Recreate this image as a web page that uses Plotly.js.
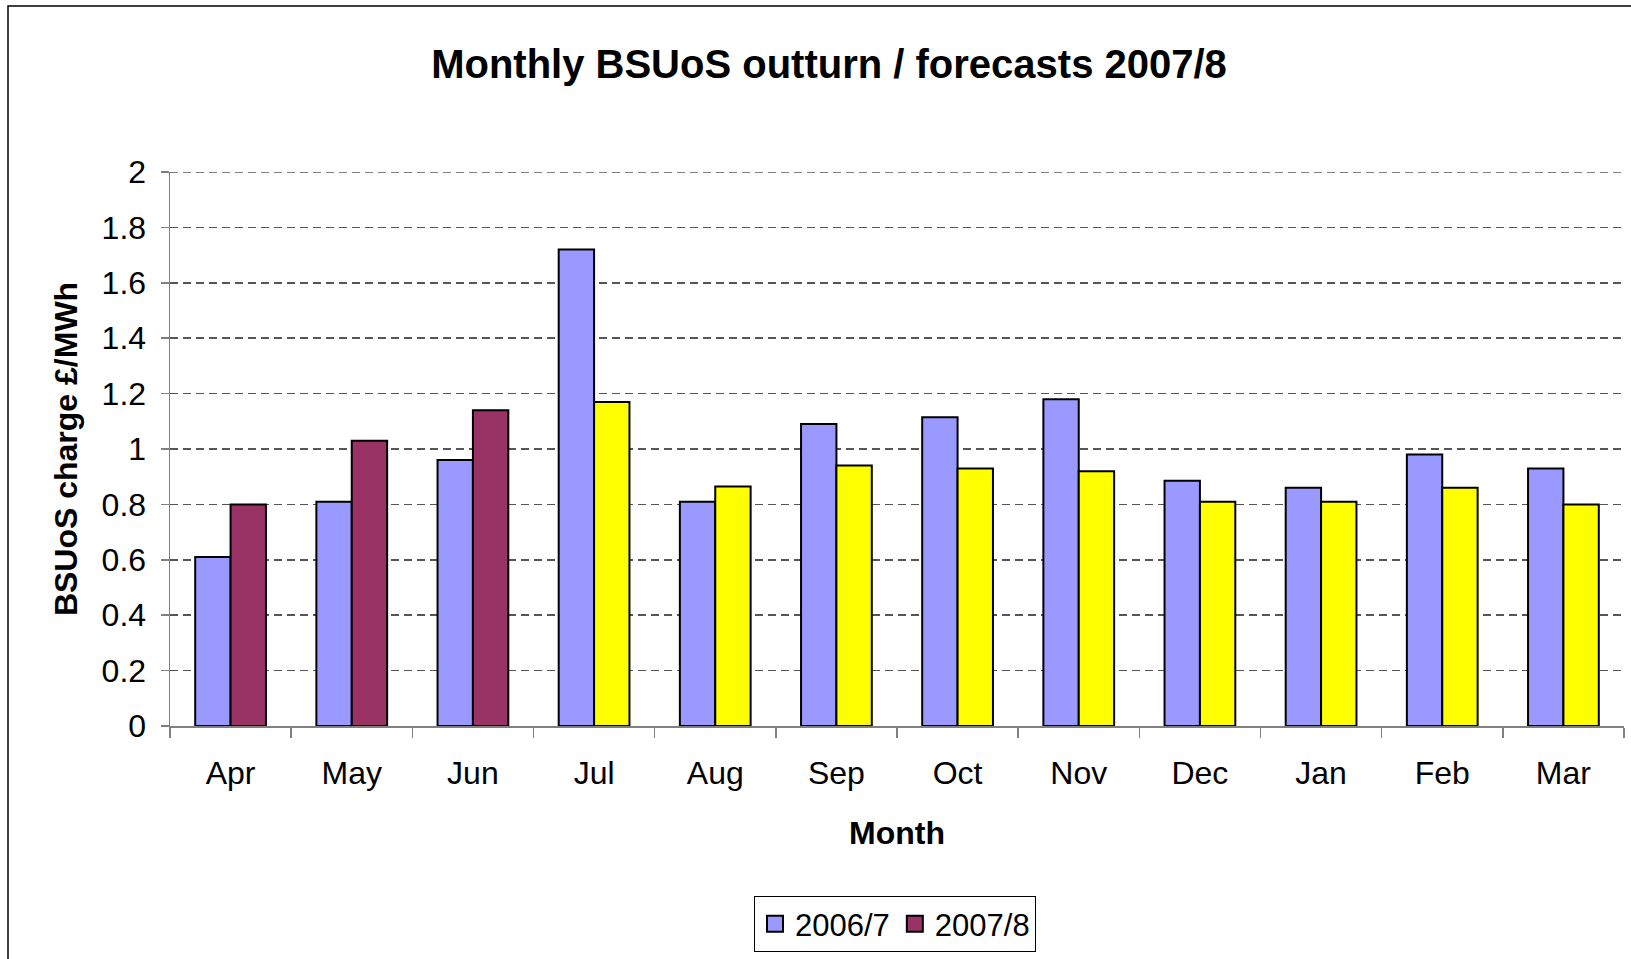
<!DOCTYPE html>
<html>
<head>
<meta charset="utf-8">
<script src="https://cdn.plot.ly/plotly-3.0.1.min.js"></script>
<style>html,body{margin:0;padding:0;background:#fff;}#chart{width:1631px;height:959px;}</style>
</head>
<body>
<div id="chart"></div>
<script>
const months = ["Apr","May","Jun","Jul","Aug","Sep","Oct","Nov","Dec","Jan","Feb","Mar"];
const series2006 = [0.61, 0.81, 0.96, 1.72, 0.81, 1.09, 1.115, 1.18, 0.885, 0.86, 0.98, 0.93];
const series2007 = [0.80, 1.03, 1.14, 1.17, 0.865, 0.94, 0.93, 0.92, 0.81, 0.81, 0.86, 0.80];
const outturnMonths = 3; // Apr-Jun outturn, remainder forecast
const yTicks = [0, 0.2, 0.4, 0.6, 0.8, 1, 1.2, 1.4, 1.6, 1.8, 2];

const colors2007 = series2007.map((v, i) => i < outturnMonths ? "#993366" : "#FFFF00");

const W = 1631, H = 959;
const m = {l: 170, r: 7, t: 172, b: 233};
const pw = W - m.l - m.r, ph = H - m.t - m.b;
const px2x = px => (px - m.l) / pw;
const py2y = py => (H - m.b - py) / ph;

const font = "Liberation Sans, Arial, sans-serif";
const gridStyle = {color: "#555", width: 1.5, dash: "8px,5px"};

const traces = [
  {type: "bar", name: "2006/7", x: months, y: series2006, showlegend: false,
   marker: {color: "#9999FF", line: {color: "#000", width: 2}}},
  {type: "bar", name: "2007/8", x: months, y: series2007, showlegend: false,
   marker: {color: colors2007, line: {color: "#000", width: 2}}},
  // legend keys
  {type: "scatter", mode: "markers", name: "2006/7", x: [months[0]], y: [null],
   marker: {symbol: "square", size: 16, color: "#9999FF", line: {color: "#000", width: 2}}},
  {type: "scatter", mode: "markers", name: "2007/8", x: [months[0]], y: [null],
   marker: {symbol: "square", size: 16, color: "#993366", line: {color: "#000", width: 2}}}
];

const layout = {
  width: W, height: H,
  margin: m,
  paper_bgcolor: "#fff", plot_bgcolor: "#fff",
  font: {family: font, color: "#000", size: 32},
  barmode: "group", bargap: 0.416, bargroupgap: 0,
  title: {text: "<b>Monthly BSUoS outturn / forecasts 2007/8</b>", x: 829 / W, xref: "container",
          xanchor: "center", y: 1 - 64 / H, yanchor: "middle",
          font: {family: font, size: 40, color: "#000"}},
  xaxis: {
    title: {text: "<b>Month</b>", font: {family: font, size: 32}, standoff: 31},
    tickfont: {family: font, size: 32},
    range: [-0.5, months.length - 0.5],
    showline: true, linecolor: "#808080", linewidth: 1.5,
    ticks: "outside", tickson: "boundaries", ticklen: 10, tickcolor: "#808080", tickwidth: 1.5,
    ticklabelstandoff: 18,
    showgrid: false, zeroline: false, fixedrange: true
  },
  yaxis: {
    title: {text: "<b>BSUoS charge £/MWh</b>", font: {family: font, size: 32}, standoff: 14},
    tickfont: {family: font, size: 32},
    range: [0, 2], tickvals: yTicks, ticktext: yTicks.map(String),
    showline: true, linecolor: "#808080", linewidth: 1.5,
    ticks: "outside", ticklen: 8, tickcolor: "#808080", tickwidth: 1.5,
    ticklabelstandoff: 8,
    showgrid: true, gridcolor: gridStyle.color, gridwidth: gridStyle.width, griddash: gridStyle.dash,
    zeroline: false, fixedrange: true
  },
  showlegend: true,
  legend: {orientation: "h", x: px2x(895), xanchor: "center", y: py2y(896), yanchor: "top",
           bordercolor: "#000", borderwidth: 1, bgcolor: "#fff",
           font: {family: font, size: 31}, traceorder: "normal", itemwidth: 30},
  shapes: [
    {type: "rect", xref: "paper", yref: "paper",
     x0: px2x(8), x1: px2x(W + 20), y0: py2y(H + 20), y1: py2y(6),
     line: {color: "#000", width: 1.5}, fillcolor: "rgba(0,0,0,0)", layer: "below"},
    // top gridline at the axis maximum (Plotly omits the edge gridline)
    {type: "line", xref: "paper", yref: "y", x0: 0, x1: 1,
     y0: yTicks[yTicks.length - 1], y1: yTicks[yTicks.length - 1],
     line: gridStyle, layer: "below"}
  ]
};

Plotly.newPlot("chart", traces, layout, {displayModeBar: false, staticPlot: true});
</script>
</body>
</html>
